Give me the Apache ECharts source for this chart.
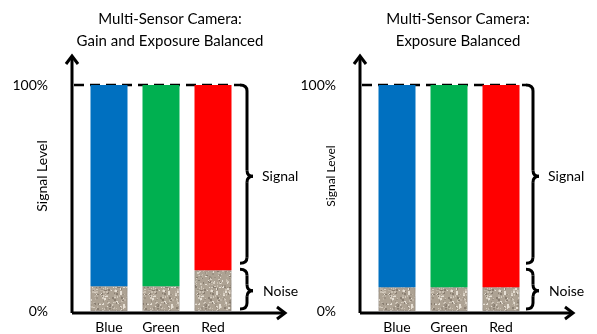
<!DOCTYPE html>
<html>
<head>
<meta charset="utf-8">
<script src="https://cdn.jsdelivr.net/npm/echarts@6/dist/echarts.min.js"></script>
<style>
  html, body { margin: 0; padding: 0; background: #fff; }
  #chart { width: 597px; height: 334px; }
</style>
</head>
<body>
<div id="chart"></div>
<script>
// data
const categories = ['Blue', 'Green', 'Red'];
const signalColors = ['#0070C0', '#00B050', '#FF0000'];
const panelTitles = ['Multi-Sensor Camera:\nGain and Exposure Balanced', 'Multi-Sensor Camera:\nExposure Balanced'];
const yTicks = [0, 100];
const fullScale = 100;
const noiseGainBalanced = [11, 11, 18];
const noiseExposureBalanced = [10.5, 10.5, 10.5];
const noisePanels = [noiseGainBalanced, noiseExposureBalanced];

const FONT = 'Lato, "Open Sans", sans-serif';

// gravel texture for the noise part (fixed seed so it looks the same every time)
function makeGravel() {
  const c = document.createElement('canvas');
  c.width = 48; c.height = 48;
  const ctx = c.getContext('2d');
  ctx.fillStyle = '#ada293';
  ctx.fillRect(0, 0, 48, 48);
  let seed = 11;
  const rnd = () => { seed = (seed * 16807) % 2147483647; return seed / 2147483647; };
  const tones = ['#d6cdc0', '#c9bfb1', '#e6dfd4', '#8a7f72', '#9c9183', '#bdb3a5'];
  for (let i = 0; i < 420; i++) {
    ctx.fillStyle = tones[Math.floor(rnd() * tones.length)];
    ctx.fillRect(Math.floor(rnd() * 48), Math.floor(rnd() * 48), 1 + Math.floor(rnd() * 2), 1 + Math.floor(rnd() * 2));
  }
  return c;
}
const gravel = makeGravel();

const grids = [
  { left: 83, top: 85, width: 156, height: 226 },
  { left: 371, top: 85, width: 156, height: 226 }
];

const chart = echarts.init(document.getElementById('chart'));

const xAxes = grids.map((g, i) => ({
  type: 'category',
  gridIndex: i,
  data: categories,
  axisLine: { show: false },
  axisTick: { show: false },
  axisLabel: { color: '#000', fontSize: 14, fontFamily: FONT, margin: 9 }
}));

const yAxes = grids.map((g, i) => ({
  type: 'value',
  gridIndex: i,
  min: 0,
  max: fullScale,
  interval: 100,
  axisLine: { show: false },
  axisTick: { show: false },
  splitLine: { show: false },
  axisLabel: {
    color: '#000', fontSize: 14, fontFamily: FONT, margin: 35,
    customValues: yTicks,
    formatter: v => v + '%'
  }
}));

const series = [];
noisePanels.forEach((noise, i) => {
  series.push({
    type: 'bar',
    xAxisIndex: i, yAxisIndex: i,
    stack: 'p' + i,
    barWidth: 37,
    data: noise,
    itemStyle: { color: { image: gravel, repeat: 'repeat' }, borderColor: 'rgba(90,80,70,0.5)', borderWidth: 0.6 },
    silent: true
  });
  series.push({
    type: 'bar',
    xAxisIndex: i, yAxisIndex: i,
    stack: 'p' + i,
    barWidth: 37,
    data: noise.map((n, k) => ({ value: fullScale - n, itemStyle: { color: signalColors[k] } })),
    silent: true
  });
});

chart.setOption({
  animation: false,
  backgroundColor: '#fff',
  grid: grids,
  xAxis: xAxes,
  yAxis: yAxes,
  series: series
});

const line = { stroke: '#000', lineWidth: 3, fill: null };

// curly brace "}" made of curves and straight pieces
function brace(out, x, y1, y2, ym) {
  out.push({ type: 'bezierCurve', shape: { x1: x - 7, y1: y1, cpx1: x, cpy1: y1, x2: x, y2: y1 + 6 }, style: line });
  out.push({ type: 'line', shape: { x1: x, y1: y1 + 6, x2: x, y2: ym - 6 }, style: line });
  out.push({ type: 'bezierCurve', shape: { x1: x, y1: ym - 6, cpx1: x, cpy1: ym, x2: x + 6, y2: ym }, style: line });
  out.push({ type: 'bezierCurve', shape: { x1: x + 6, y1: ym, cpx1: x, cpy1: ym, x2: x, y2: ym + 6 }, style: line });
  out.push({ type: 'line', shape: { x1: x, y1: ym + 6, x2: x, y2: y2 - 6 }, style: line });
  out.push({ type: 'bezierCurve', shape: { x1: x, y1: y2 - 6, cpx1: x, cpy1: y2, x2: x - 7, y2: y2 }, style: line });
}

// the braces are drawn at the same height in both panels
const maxNoise = Math.max.apply(null, noisePanels.map(n => Math.max.apply(null, n)));
const nameSizes = [14, 12];
const nameX = [42, 331];
const braceGap = [8, 6];

const graphics = [];
noisePanels.forEach((noise, i) => {
  const g = grids[i];
  const yZero = chart.convertToPixel({ gridIndex: i }, [0, 0])[1];
  const yFull = chart.convertToPixel({ gridIndex: i }, [0, fullScale])[1];
  const yNoise = chart.convertToPixel({ gridIndex: i }, [0, maxNoise])[1];
  const ax = g.left - 11;
  const ay = yZero + 2;
  const braceX = g.left + g.width + braceGap[i];
  const arrowEnd = g.left + g.width + 46;
  const sigBottom = yNoise - 7;
  const sigMid = (yFull + sigBottom) / 2 + 2;
  const noiseMid = (yNoise + yZero) / 2;

  // title
  graphics.push({
    type: 'text', x: g.left + g.width / 2 + 9, y: 8,
    style: { text: panelTitles[i], fill: '#000', font: '15px ' + FONT, textAlign: 'center', lineHeight: 22 }
  });
  // y axis name
  graphics.push({
    type: 'text', x: nameX[i], y: 176, rotation: Math.PI / 2,
    style: { text: 'Signal Level', fill: '#000', font: nameSizes[i] + 'px ' + FONT, textAlign: 'center', textVerticalAlign: 'middle' }
  });
  // y axis + arrow
  graphics.push({ type: 'line', shape: { x1: ax, y1: ay, x2: ax, y2: 57 }, style: line });
  graphics.push({ type: 'polyline', shape: { points: [[ax - 6, 64], [ax, 56], [ax + 6, 64]] }, style: line });
  // x axis + arrow
  graphics.push({ type: 'line', shape: { x1: ax, y1: ay, x2: arrowEnd, y2: ay }, style: line });
  graphics.push({ type: 'polyline', shape: { points: [[arrowEnd - 8, ay - 6], [arrowEnd, ay], [arrowEnd - 8, ay + 6]] }, style: line });
  // dashed full-scale line
  graphics.push({
    type: 'line', shape: { x1: ax + 2, y1: yFull, x2: braceX - 7, y2: yFull },
    style: { stroke: '#000', lineWidth: 2.5, lineDash: [10, 6] }
  });
  // signal brace
  brace(graphics, braceX, yFull, sigBottom, sigMid);
  graphics.push({
    type: 'text', x: braceX + 15, y: sigMid,
    style: { text: 'Signal', fill: '#000', font: '14px ' + FONT, textVerticalAlign: 'middle' }
  });
  // noise brace
  brace(graphics, braceX, yNoise - 1, yZero - 2, noiseMid);
  graphics.push({
    type: 'text', x: braceX + 16, y: noiseMid + 1,
    style: { text: 'Noise', fill: '#000', font: '14px ' + FONT, textVerticalAlign: 'middle' }
  });
});

chart.setOption({ graphic: graphics });
</script>
</body>
</html>
